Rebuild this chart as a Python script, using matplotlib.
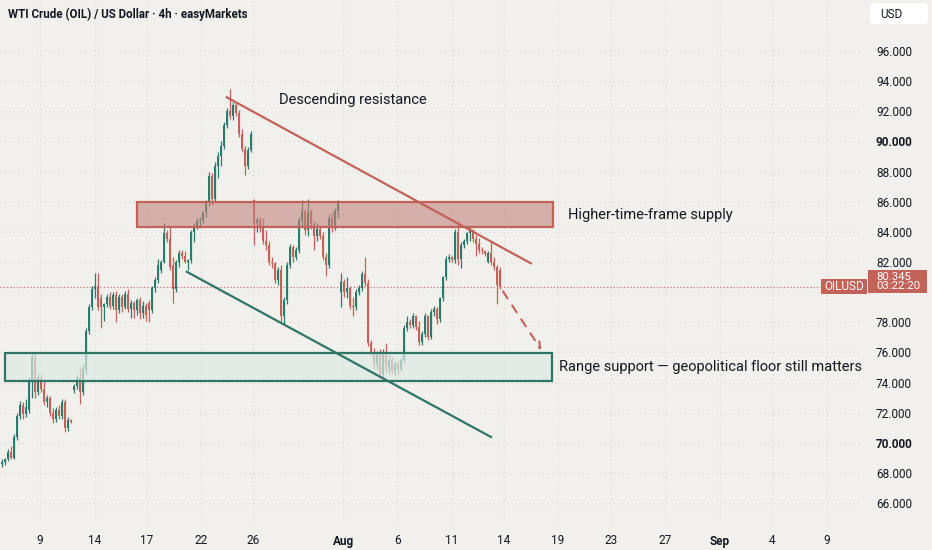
import matplotlib
matplotlib.use("Agg")
import matplotlib.pyplot as plt
from matplotlib.patches import Rectangle, FancyBboxPatch
from matplotlib.transforms import blended_transform_factory

# 4h candles (one bar every ~3 px)
opens = [68.6, 68.7, 68.9, 69.4, 69.0, 70.4, 71.8, 72.5, 71.9, 72.2,
         74.1, 75.7, 73.4, 74.3, 73.6, 72.7, 73.0, 72.0, 71.6, 72.2,
         71.8, 72.7, 71.0, 71.5, 73.5, 73.8, 74.3, 73.4, 74.9, 77.4,
         79.0, 80.2, 80.4, 79.6, 79.0, 79.2, 79.7, 79.1, 79.8, 78.8,
         79.7, 79.0, 79.9, 78.9, 79.3, 78.8, 79.5, 78.6, 79.1, 79.3,
         78.8, 80.3, 80.8, 81.5, 82.0, 83.9, 83.5, 81.8, 80.2, 82.0,
         82.6, 82.4, 82.0, 82.1, 84.0, 84.4, 84.7, 84.8, 85.3, 85.9,
         87.7, 86.2, 88.4, 89.0, 89.7, 91.1, 92.0, 91.7, 92.4, 91.9,
         90.5, 89.5, 88.4, 89.4, 86.1, 84.6, 84.8, 84.3, 83.4, 83.1,
         82.0, 81.9, 80.8, 81.5, 78.4, 79.5, 81.8, 83.0, 82.3, 82.8,
         84.8, 85.4, 84.1, 85.3, 84.5, 83.7, 84.2, 83.7, 82.3, 81.8,
         84.9, 84.3, 85.4, 80.0, 80.7, 80.0, 80.3, 79.1, 79.0, 80.0,
         80.3, 81.2, 80.6, 76.6, 76.0, 75.2, 75.8, 74.6, 75.9, 75.0,
         75.5, 74.8, 75.2, 74.9, 75.5, 77.6, 78.0, 77.8, 78.4, 77.7,
         76.7, 77.2, 78.4, 77.0, 78.7, 78.9, 78.2, 79.6, 81.0, 82.2,
         82.3, 82.1, 84.0, 82.2, 83.1, 83.4, 83.9, 84.1, 83.5, 83.2,
         82.8, 82.7, 82.0, 82.6, 82.0, 81.7, 81.5]
highs = [68.9, 69.0, 69.6, 69.8, 70.6, 72.0, 72.8, 72.7, 72.9, 74.4,
         76.0, 76.0, 74.6, 74.6, 74.2, 73.2, 73.1, 72.3, 72.4, 72.5,
         72.9, 72.9, 71.7, 71.6, 73.9, 74.5, 75.0, 75.2, 77.6, 79.2,
         80.4, 81.3, 81.3, 79.9, 79.3, 79.9, 80.0, 80.0, 80.1, 79.9,
         79.9, 80.1, 80.2, 79.5, 79.4, 79.6, 79.7, 79.4, 79.3, 79.5,
         80.4, 81.0, 82.2, 82.1, 84.6, 84.1, 84.4, 82.3, 82.1, 82.8,
         82.8, 82.7, 82.2, 84.1, 84.6, 84.9, 85.0, 85.4, 86.1, 88.0,
         87.9, 88.6, 89.3, 90.0, 91.3, 92.2, 93.5, 92.6, 92.6, 92.1,
         90.8, 89.7, 89.6, 90.7, 86.2, 85.0, 85.0, 84.9, 84.1, 83.4,
         82.3, 82.0, 81.7, 81.8, 79.7, 82.0, 83.2, 83.1, 83.0, 85.0,
         86.1, 85.5, 86.2, 85.5, 84.7, 84.6, 84.4, 84.0, 82.6, 85.2,
         85.3, 85.6, 86.1, 81.3, 80.9, 81.0, 80.4, 79.7, 80.2, 80.5,
         81.4, 82.3, 80.9, 76.8, 76.3, 76.1, 76.2, 76.2, 76.6, 75.8,
         75.7, 75.4, 75.4, 75.6, 77.8, 78.4, 78.2, 78.6, 78.5, 78.1,
         77.4, 78.6, 78.5, 78.9, 79.1, 79.0, 79.7, 81.1, 82.4, 82.5,
         82.4, 84.2, 84.7, 83.3, 83.5, 84.0, 84.3, 84.2, 83.8, 83.6,
         83.0, 82.8, 82.7, 83.3, 82.3, 81.8, 81.7]
lows = [68.4, 68.5, 68.8, 68.9, 68.9, 70.2, 71.6, 71.6, 71.7, 72.0,
        73.0, 73.0, 73.2, 73.4, 72.5, 72.4, 71.8, 71.3, 71.4, 71.6,
        71.6, 70.7, 70.8, 71.3, 73.3, 73.6, 72.6, 73.2, 74.6, 77.2,
        78.8, 79.6, 78.8, 77.6, 78.1, 79.0, 78.9, 78.9, 78.0, 78.6,
        78.7, 78.9, 78.7, 78.3, 78.3, 78.5, 78.2, 78.3, 78.1, 78.0,
        78.6, 80.0, 80.6, 81.3, 81.9, 83.3, 81.5, 79.3, 80.0, 81.7,
        82.2, 81.9, 81.5, 81.9, 83.3, 84.2, 84.4, 84.6, 85.0, 85.7,
        85.8, 86.0, 87.6, 88.4, 89.5, 90.9, 91.5, 91.4, 91.7, 90.3,
        89.3, 87.8, 88.2, 89.3, 83.1, 84.0, 84.0, 83.2, 82.8, 81.8,
        81.6, 80.6, 80.5, 78.0, 77.8, 79.2, 81.6, 82.0, 82.1, 82.6,
        84.3, 83.8, 83.7, 84.2, 82.8, 83.4, 83.5, 82.1, 81.1, 81.6,
        84.0, 84.1, 84.9, 79.0, 79.7, 79.6, 78.9, 78.4, 78.8, 79.8,
        80.1, 80.4, 76.4, 75.8, 74.9, 74.9, 74.3, 74.4, 74.7, 74.6,
        74.6, 74.5, 74.6, 74.8, 75.3, 77.4, 77.6, 77.6, 77.5, 76.5,
        76.5, 77.0, 76.8, 76.9, 78.4, 77.9, 78.0, 79.4, 80.8, 82.0,
        82.0, 81.9, 81.8, 81.6, 82.9, 83.2, 83.4, 83.3, 82.4, 82.6,
        82.5, 82.4, 81.9, 81.8, 81.5, 79.2, 80.2]
closes = [68.7, 68.9, 69.4, 69.0, 70.4, 71.8, 72.5, 71.9, 72.4, 74.1,
          75.7, 73.4, 74.3, 73.6, 72.7, 73.0, 72.0, 71.6, 72.2, 71.8,
          72.7, 71.0, 71.5, 71.4, 73.8, 74.3, 73.4, 74.9, 77.4, 79.0,
          80.2, 80.4, 79.0, 79.0, 79.2, 79.7, 79.1, 79.8, 78.8, 79.7,
          79.0, 79.9, 78.9, 79.3, 78.8, 79.5, 78.6, 79.1, 78.5, 78.8,
          80.3, 80.8, 81.8, 82.0, 83.9, 83.5, 81.7, 80.2, 82.0, 82.6,
          82.4, 82.0, 82.1, 84.0, 84.4, 84.7, 84.8, 85.3, 85.9, 87.7,
          86.2, 88.4, 89.0, 89.7, 91.1, 92.0, 91.7, 92.4, 91.9, 90.5,
          89.5, 88.4, 89.4, 90.5, 84.6, 84.8, 84.3, 83.4, 83.1, 82.0,
          81.9, 80.8, 81.5, 78.4, 79.5, 81.8, 83.0, 82.3, 82.8, 84.8,
          85.4, 84.1, 85.3, 84.5, 83.7, 84.2, 83.7, 82.3, 81.8, 84.9,
          84.3, 85.4, 85.9, 80.7, 80.0, 80.3, 79.1, 79.0, 80.0, 80.3,
          81.2, 80.6, 76.6, 76.0, 75.2, 75.8, 74.6, 75.9, 75.0, 75.5,
          74.8, 75.2, 74.9, 75.5, 77.6, 78.0, 77.8, 78.4, 77.7, 76.7,
          77.2, 78.4, 77.0, 78.7, 78.9, 78.2, 79.6, 81.0, 82.2, 82.3,
          82.1, 84.0, 82.2, 83.1, 83.4, 83.9, 84.1, 83.5, 83.2, 82.8,
          82.7, 82.5, 82.6, 82.0, 81.7, 80.5, 80.345]

# date axis (bar positions of the day labels)
tick_pos = [12.7, 31, 48.3, 66.3, 83.7, 113.7, 131.7, 150, 167.3, 185.3,
            203, 221, 239.3, 256.7, 275]
tick_lbl = ["9", "14", "17", "22", "26", "Aug", "6", "11", "14", "19",
            "23", "27", "Sep", "4", "9"]
price_ticks = list(range(66, 98, 2))
hidden_price = 80  # sits under the last-price tag

# drawings: zones and trend lines (bar index, price)
supply_zone = (45, 183.7, 84.35, 85.95)
support_zone = (1, 183.3, 74.1, 75.95)
resistance = ((74.9, 92.93), (176.3, 81.91))
support_line = ((61.6, 81.35), (163, 70.39))
projection = ((166.5, 80.2), (180.3, 76.0))

GREEN = "#2b7a6e"
RED = "#c26258"
TEAL = "#2e7566"
BG = "#f2f0ec"
TXT = "#131722"
FONT = ["Roboto", "DejaVu Sans"]
plt.rcParams["font.family"] = FONT

fig = plt.figure(figsize=(9.32, 5.5), dpi=100, facecolor=BG)
ax = fig.add_axes([0, 28 / 550, 862 / 932, 522 / 550], facecolor=BG)

n = len(closes)
xs = list(range(n))
cols = [GREEN if c >= o else RED for o, c in zip(opens, closes)]
bottoms = [min(o, c) for o, c in zip(opens, closes)]
heights = [max(abs(c - o), 0.1) for o, c in zip(opens, closes)]
ax.vlines(xs, lows, highs, colors=cols, linewidth=0.9, zorder=2)
ax.bar(xs, heights, bottom=bottoms, width=0.82, color=cols, linewidth=0, zorder=3)

# zones on top of the candles (semi-opaque, candles show faded)
x0, x1, y0, y1 = supply_zone
ax.add_patch(Rectangle((x0, y0), x1 - x0, y1 - y0, facecolor=(195 / 255, 133 / 255, 126 / 255, 0.6),
                       edgecolor=RED, linewidth=1.6, zorder=4))
x0, x1, y0, y1 = support_zone
ax.add_patch(Rectangle((x0, y0), x1 - x0, y1 - y0, facecolor=(220 / 255, 233 / 255, 228 / 255, 0.7),
                       edgecolor=TEAL, linewidth=1.6, zorder=4))

ax.plot([resistance[0][0], resistance[1][0]], [resistance[0][1], resistance[1][1]],
        color=RED, linewidth=1.6, zorder=5)
ax.plot([support_line[0][0], support_line[1][0]], [support_line[0][1], support_line[1][1]],
        color=TEAL, linewidth=1.6, zorder=5)
ax.annotate("", xy=projection[1], xytext=projection[0],
            arrowprops=dict(arrowstyle="->", linestyle=(0, (4, 4)), color=RED, lw=1.5,
                            mutation_scale=11), zorder=5)

ax.text(92.3, 92.75, "Descending resistance", fontsize=10.5, color=TXT, va="center", zorder=6)
ax.text(188.7, 85.12, "Higher-time-frame supply", fontsize=10.5, color=TXT, va="center", zorder=6)
ax.text(185.7, 75.03, "Range support \u2014 geopolitical floor still matters", fontsize=10.5,
        color=TXT, va="center", zorder=6)

# last price line
last = closes[-1]
ax.axhline(last, color=RED, linestyle=(0, (1, 2)), linewidth=0.8, zorder=1)

ax.set_xlim(-0.67, 286.67)
ax.set_ylim(64.75, 99.38)
for s in ax.spines.values():
    s.set_visible(False)

ax.set_xticks(tick_pos)
ax.set_xticklabels(tick_lbl)
ax.set_yticks(price_ticks)
ax.set_yticklabels(["" if p == hidden_price else f"{p:.3f}" for p in price_ticks])
ax.yaxis.tick_right()
ax.tick_params(axis="x", length=0, pad=9, labelsize=8.5, labelcolor=TXT)
ax.tick_params(axis="y", length=0, pad=10, labelsize=8.5, labelcolor=TXT)
for lbl in ax.get_xticklabels():
    if lbl.get_text() in ("Aug", "Sep"):
        lbl.set_fontweight("bold")
for lbl, p in zip(ax.get_yticklabels(), price_ticks):
    if p in (70, 90):
        lbl.set_fontweight("bold")
ax.grid(True, color="#d6d4cf", linestyle=(0, (1, 3)), linewidth=0.8)
ax.set_axisbelow(True)

# price tags on the right scale (x in axes fraction, y in price)
tr = blended_transform_factory(ax.transAxes, ax.transData)
ax.add_patch(Rectangle((0.9524, last - 0.47), 0.0534, 0.99, transform=tr, facecolor=RED,
                       edgecolor="none", zorder=7, clip_on=False))
ax.text(0.979, last + 0.02, "OILUSD", transform=tr, fontsize=8.5, color="white",
        ha="center", va="center", zorder=8, clip_on=False)
ax.add_patch(Rectangle((1.0070, last - 0.40), 0.0684, 1.55, transform=tr, facecolor=RED,
                       edgecolor="none", zorder=7, clip_on=False))
ax.text(1.0163, last + 0.36, f"{last:.3f}\n03:22:20", transform=tr, fontsize=8.2,
        color="white", ha="left", va="center", linespacing=0.95, zorder=8, clip_on=False)

fig.text(8 / 932, 1 - 14 / 550, "WTI Crude (OIL) / US Dollar \u00b7 4h \u00b7 easyMarkets",
         fontsize=8.3, fontweight="semibold", color=TXT, va="center", ha="left")
fig.patches.append(FancyBboxPatch((870 / 932, 1 - 24 / 550), 58 / 932, 21 / 550,
                                  boxstyle="round,pad=0,rounding_size=0.006",
                                  transform=fig.transFigure, facecolor="white",
                                  edgecolor="none"))
fig.text(880 / 932, 1 - 14 / 550, "USD", fontsize=8.5, color=TXT, va="center", ha="left")

fig.savefig("out.png", dpi=100, facecolor=BG)
